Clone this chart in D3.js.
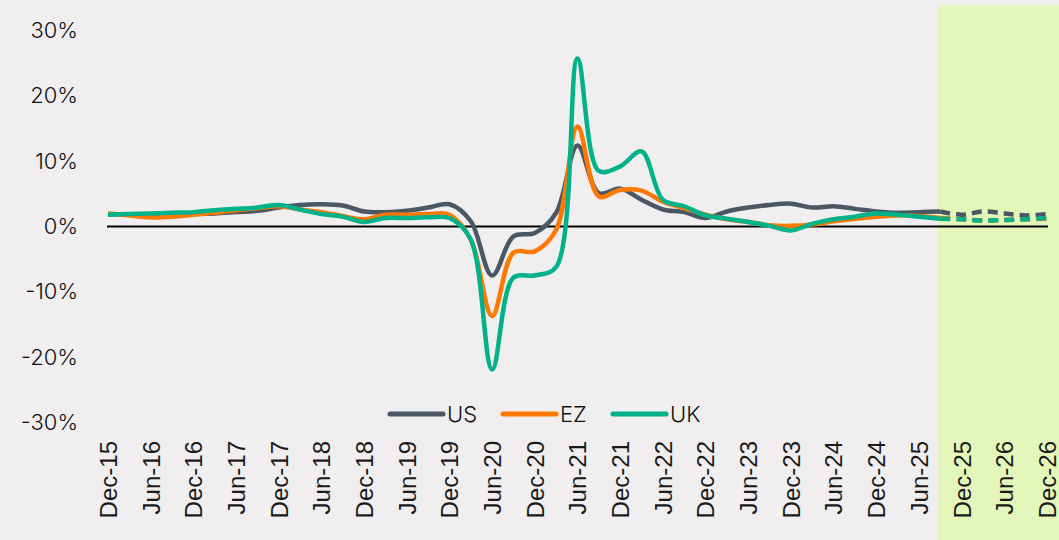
<!DOCTYPE html>
<html>
<head>
<meta charset="utf-8">
<script src="https://cdn.jsdelivr.net/npm/d3@7"></script>
<style>
  html, body { margin: 0; padding: 0; background: #f0eeef; }
  svg { display: block; }
</style>
</head>
<body>
<svg id="chart"></svg>
<script>
const width = 1059;
const height = 540;

// quarterly periods, Dec-15 .. Dec-26
const periods = [
    "Dec-15", "Mar-16", "Jun-16", "Sep-16", "Dec-16", "Mar-17", "Jun-17", "Sep-17",
    "Dec-17", "Mar-18", "Jun-18", "Sep-18", "Dec-18", "Mar-19", "Jun-19", "Sep-19",
    "Dec-19", "Mar-20", "Jun-20", "Sep-20", "Dec-20", "Mar-21", "Jun-21", "Sep-21",
    "Dec-21", "Mar-22", "Jun-22", "Sep-22", "Dec-22", "Mar-23", "Jun-23", "Sep-23",
    "Dec-23", "Mar-24", "Jun-24", "Sep-24", "Dec-24", "Mar-25", "Jun-25", "Sep-25",
    "Dec-25", "Mar-26", "Jun-26", "Sep-26", "Dec-26"
];

const tickLabels = periods.filter((d, i) => i % 2 === 0);
const yTicks = [-30, -20, -10, 0, 10, 20, 30];

const forecastStart = "Sep-25";

// actuals, Dec-15 .. Sep-25 (%)
const usActual = [
    1.9, 1.8, 1.6, 1.6, 1.9, 2.0, 2.2, 2.4, 2.9, 3.3,
    3.4, 3.2, 2.3, 2.2, 2.4, 2.9, 3.4, 0.8, -7.5, -1.5,
    -1.0, 2.1, 12.4, 5.1, 5.8, 4.1, 2.6, 2.2, 1.3, 2.3,
    2.9, 3.3, 3.5, 2.9, 3.1, 2.7, 2.3, 2.1, 2.2, 2.3
];
const ezActual = [
    2.0, 1.7, 1.4, 1.5, 1.8, 2.1, 2.5, 2.8, 3.1, 2.6,
    2.2, 1.6, 1.1, 1.8, 1.8, 1.9, 1.8, -2.0, -13.7, -4.0,
    -3.8, -0.5, 15.3, 4.6, 5.6, 5.5, 3.8, 2.8, 1.8, 1.1,
    0.7, 0.2, 0.1, 0.3, 0.8, 1.2, 1.5, 1.7, 1.6, 1.3
];
const ukActual = [
    1.8, 1.9, 2.0, 2.1, 2.2, 2.5, 2.7, 2.9, 3.3, 2.6,
    1.9, 1.5, 0.7, 1.3, 1.3, 1.4, 1.3, -2.0, -21.9, -7.8,
    -7.5, -6.2, 25.7, 8.5, 9.2, 11.5, 4.1, 3.1, 1.7, 1.2,
    0.7, 0.1, -0.6, 0.4, 1.1, 1.5, 2.0, 1.8, 1.5, 1.2
];

// forecasts, Sep-25 .. Dec-26 (%)
const usForecast = [2.3, 1.8, 2.3, 2.0, 1.7, 1.9];
const ezForecast = [1.3, 1.1, 0.9, 1.0, 1.1, 1.2];
const ukForecast = [1.2, 1.1, 0.9, 1.0, 1.1, 1.3];

const seriesNames = ["US", "EZ", "UK"];
const colors = { US: "#4a5866", EZ: "#ff7900", UK: "#00b289" };

const svg = d3.select("#chart")
    .attr("width", width)
    .attr("height", height)
    .style("font-family", "Inter, 'Open Sans', sans-serif");

svg.append("rect")
    .attr("width", width)
    .attr("height", height)
    .attr("fill", "#f0eeef");

const x = d3.scalePoint()
    .domain(periods)
    .range([108, 1047]);

const y = d3.scaleLinear()
    .domain([-30, 30])
    .range([422.5, 30.5]);

// forecast shading
svg.append("rect")
    .attr("x", x(forecastStart) - 2)
    .attr("y", 5)
    .attr("width", width - x(forecastStart) + 2)
    .attr("height", height - 5)
    .attr("fill", "#e2f7b9");

// y axis labels
const yAxis = svg.append("g")
    .attr("transform", "translate(78,0)")
    .call(d3.axisLeft(y).tickValues(yTicks).tickSize(0).tickPadding(0).tickFormat(d => d + "%"));

yAxis.select(".domain").remove();
yAxis.selectAll("text")
    .style("font-family", "Inter, 'Open Sans', sans-serif")
    .style("font-size", "22px")
    .style("font-weight", 300)
    .attr("fill", "#111");

// x axis labels
const xAxis = svg.append("g")
    .attr("transform", `translate(0,${y(0)})`)
    .call(d3.axisBottom(x).tickValues(tickLabels).tickSize(0));

xAxis.select(".domain").remove();
xAxis.selectAll("text")
    .attr("transform", "rotate(-90)")
    .attr("x", -(441 - y(0)))
    .attr("y", 0)
    .attr("dy", "0.35em")
    .style("text-anchor", "end")
    .style("font-family", "'Liberation Sans', Arial, sans-serif")
    .style("font-size", "24px")
    .attr("fill", "#1a1a1a");

// zero line
svg.append("line")
    .attr("x1", x(periods[0]) - 1)
    .attr("x2", x(periods[periods.length - 1]) + 1)
    .attr("y1", y(0))
    .attr("y2", y(0))
    .attr("stroke", "#000")
    .attr("stroke-width", 2);

const line = d3.line()
    .x(d => x(d.p))
    .y(d => y(d.v))
    .curve(d3.curveCatmullRom.alpha(0.5));

const fcIndex = periods.indexOf(forecastStart);

const actuals = { US: usActual, EZ: ezActual, UK: ukActual };
const forecasts = { US: usForecast, EZ: ezForecast, UK: ukForecast };

seriesNames.forEach(name => {
    const act = actuals[name].map((v, i) => ({ p: periods[i], v }));
    const fc = forecasts[name].map((v, i) => ({ p: periods[fcIndex + i], v }));

    svg.append("path")
        .attr("d", line(act))
        .attr("fill", "none")
        .attr("stroke", colors[name])
        .attr("stroke-width", 4.5)
        .attr("stroke-linejoin", "round");

    svg.append("path")
        .attr("d", line(fc))
        .attr("fill", "none")
        .attr("stroke", colors[name])
        .attr("stroke-width", 4.5)
        .attr("stroke-dasharray", "10,6");
});

// legend
const legendX = [390, 503, 613];

const legend = svg.append("g")
    .attr("transform", "translate(0,414)");

seriesNames.forEach((name, i) => {
    legend.append("line")
        .attr("x1", legendX[i])
        .attr("x2", legendX[i] + 53)
        .attr("stroke", colors[name])
        .attr("stroke-width", 5)
        .attr("stroke-linecap", "round");

    legend.append("text")
        .attr("x", legendX[i] + 57)
        .attr("dy", "0.35em")
        .style("font-size", "22px")
        .style("font-weight", 300)
        .attr("fill", "#111")
        .text(name);
});
</script>
</body>
</html>
